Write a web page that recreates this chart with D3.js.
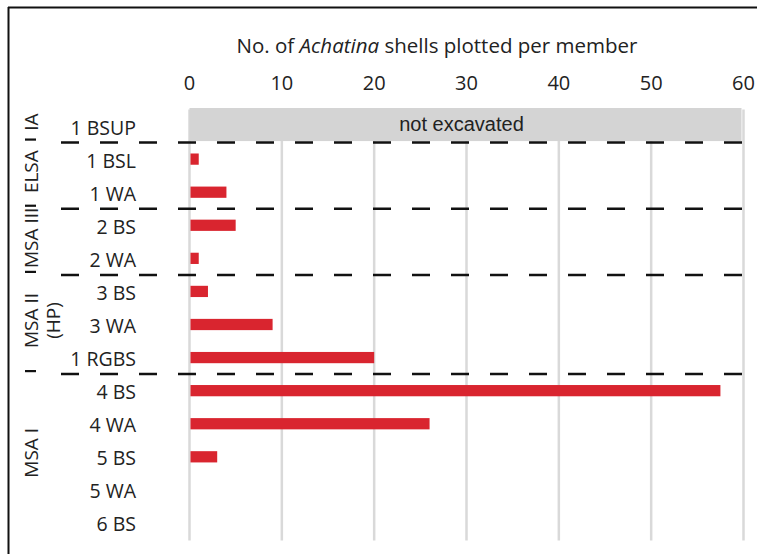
<!DOCTYPE html>
<html>
<head>
<meta charset="utf-8">
<script src="https://cdn.jsdelivr.net/npm/d3@7"></script>
<style>
  body { margin: 0; background: #fff; }
  text { font-family: "Open Sans", sans-serif; fill: #222; }
</style>
</head>
<body>
<svg id="canvas" width="757" height="554"></svg>
<script>
// members, top to bottom
let members = ["1 BSUP", "1 BSL", "1 WA", "2 BS", "2 WA", "3 BS", "3 WA", "1 RGBS", "4 BS", "4 WA", "5 BS", "5 WA", "6 BS"]
// shells per member (null = not excavated)
let shells = [null, 1, 4, 5, 1, 2, 9, 20, 57.5, 26, 3, 0, 0]
let tickValues = [0, 10, 20, 30, 40, 50, 60]

// stratigraphic groups and the rows they cover
let groupNames = ["IA", "ELSA", "MSA III", "MSA II", "MSA I"]
let groupFirst = ["1 BSUP", "1 BSL", "2 BS", "3 BS", "4 BS"]
let groupLast = ["1 BSUP", "1 WA", "2 WA", "1 RGBS", "6 BS"]

let canvas = d3.select("#canvas")

let x = d3.scaleLinear().domain([0, 60]).range([189.5, 743.5])
let y = d3.scaleBand().domain(members).range([109.5, 539.5]).padding(0)
let barH = y.bandwidth() * 0.34

// frame lines (top + left)
canvas.append("line").attr("x1", 8).attr("x2", 757).attr("y1", 7.5).attr("y2", 7.5)
    .attr("stroke", "#111").attr("stroke-width", 2)
canvas.append("line").attr("x1", 8.5).attr("x2", 8.5).attr("y1", 7).attr("y2", 554)
    .attr("stroke", "#111").attr("stroke-width", 2)

// gridlines
canvas.selectAll(".grid")
    .data(tickValues)
    .enter()
    .append("line")
    .attr("class", "grid")
    .attr("x1", d => x(d)).attr("x2", d => x(d))
    .attr("y1", y.range()[0]).attr("y2", y.range()[1] + 1)
    .attr("stroke", "#d9d9d9")
    .attr("stroke-width", 2.5)

// tick labels on top
canvas.selectAll(".tick")
    .data(tickValues)
    .enter()
    .append("text")
    .attr("class", "tick")
    .attr("x", d => x(d))
    .attr("y", 82)
    .attr("text-anchor", "middle")
    .attr("dominant-baseline", "central")
    .style("font-size", "20px")
    .text(d => d)

// axis title
let title = canvas.append("text")
    .attr("x", 437).attr("y", 45)
    .attr("text-anchor", "middle")
    .attr("dominant-baseline", "central")
    .style("font-size", "20.5px")
title.append("tspan").text("No. of ")
title.append("tspan").style("font-style", "italic").text("Achatina")
title.append("tspan").text(" shells plotted per member")

// not excavated box
let notDug = members.filter((m, i) => shells[i] === null)
canvas.selectAll(".nodata")
    .data(notDug)
    .enter()
    .append("rect")
    .attr("class", "nodata")
    .attr("x", x(0))
    .attr("y", d => y(d) - 1.5)
    .attr("width", x(60) - x(0) - 2)
    .attr("height", y.bandwidth())
    .attr("fill", "#d4d4d4")
canvas.selectAll(".nodataText")
    .data(notDug)
    .enter()
    .append("text")
    .attr("x", (x(0) + x(60)) / 2 - 5)
    .attr("y", d => y(d) + y.bandwidth() / 2 - 2)
    .attr("text-anchor", "middle")
    .attr("dominant-baseline", "central")
    .style("font-family", "'Liberation Sans', Arial, sans-serif")
    .style("font-size", "20px")
    .text("not excavated")

// bars
canvas.selectAll(".bar")
    .data(members.filter((m, i) => shells[i] > 0))
    .enter()
    .append("rect")
    .attr("class", "bar")
    .attr("x", x(0) + 1)
    .attr("y", d => y(d) + y.bandwidth() / 2 - barH / 2)
    .attr("width", d => x(shells[members.indexOf(d)]) - x(0) - 1)
    .attr("height", barH)
    .attr("fill", "#d9252f")

// member labels
canvas.selectAll(".member")
    .data(members)
    .enter()
    .append("text")
    .attr("class", "member")
    .attr("x", 136)
    .attr("y", d => y(d) + y.bandwidth() / 2 + 1)
    .attr("text-anchor", "end")
    .attr("dominant-baseline", "central")
    .style("font-size", "19.5px")
    .text(d => d)

// dashed separators between groups
let breaks = groupFirst.slice(1)
canvas.selectAll(".sep")
    .data(breaks)
    .enter()
    .append("line")
    .attr("class", "sep")
    .attr("x1", 61).attr("x2", 742)
    .attr("y1", d => y(d)).attr("y2", d => y(d))
    .attr("stroke", "#111")
    .attr("stroke-width", 2.5)
    .attr("stroke-dasharray", "18,21")
canvas.selectAll(".sepMark")
    .data(breaks)
    .enter()
    .append("line")
    .attr("x1", 25).attr("x2", 36)
    .attr("y1", d => y(d) - 3).attr("y2", d => y(d) - 3)
    .attr("stroke", "#111")
    .attr("stroke-width", 2.2)

// rotated group labels
groupNames.forEach((name, i) => {
    let yc = (y(groupFirst[i]) + y(groupLast[i]) + y.bandwidth()) / 2 - 4
    let g = canvas.append("g").attr("transform", `translate(31,${yc}) rotate(-90)`)
    g.append("text")
        .attr("text-anchor", "middle")
        .attr("dominant-baseline", "central")
        .style("font-size", "19px")
        .text(name)
    if (name === "MSA II") {
        g.append("text")
            .attr("y", 22)
            .attr("text-anchor", "middle")
            .attr("dominant-baseline", "central")
            .style("font-size", "19px")
            .text("(HP)")
    }
})
</script>
</body>
</html>
